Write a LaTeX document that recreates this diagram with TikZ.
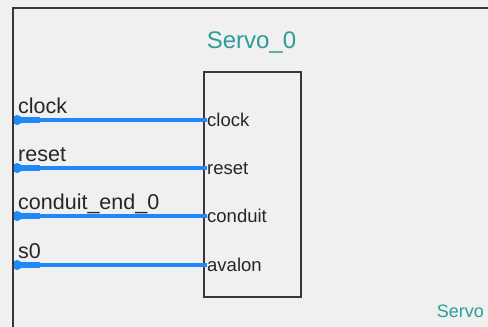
\documentclass[tikz,border=0pt]{standalone}
\usepackage{fontspec}
\setmainfont{Liberation Sans}
\usetikzlibrary{calc}
\definecolor{qsysteal}{HTML}{2E9C97}
\definecolor{qsysblue}{HTML}{2089F5}
\definecolor{qsysframe}{HTML}{383838}
\definecolor{qsysback}{HTML}{F0F0F0}

\begin{document}
\begin{tikzpicture}[x=1pt, y=-1pt,
		outerlabel/.style={anchor=base west, inner sep=0pt, color=black!85, font=\fontsize{21.5pt}{25pt}\selectfont},
		innerlabel/.style={anchor=base west, inner sep=0pt, color=black!85, font=\fontsize{18.5pt}{22pt}\selectfont},
		portwire/.style={line width=3.4pt, color=qsysblue},
		portstub/.style={line width=5.5pt, color=qsysblue}]
		%%%%% START %%%%%
		
		\fill[qsysback] (0, 0) rectangle (488, 327);
		\useasboundingbox (0, 0) rectangle (488, 327);
		
		\node[anchor=base, inner sep=0pt, color=qsysteal, font=\fontsize{24pt}{28pt}\selectfont] (title) at (251.5, 48) {Servo\_0};
		\draw[line width=1.8pt, color=qsysframe] (204, 72) rectangle (301, 297);
		
		\coordinate (clockend) at (17, 120);
		\coordinate (resetend) at (17, 168);
		\coordinate (conduitend) at (17, 216);
		\coordinate (avalonend) at (17, 265);
		
		\node[outerlabel] (clocklabel) at (18, 113) {clock};
		\node[outerlabel] (resetlabel) at (18, 161) {reset};
		\node[outerlabel] (conduitlabel) at (18, 209) {conduit\_end\_0};
		\node[outerlabel] (avalonlabel) at (18, 258) {s0};
		
		\node[innerlabel] (clockport) at (207, 126) {clock};
		\node[innerlabel] (resetport) at (207, 174) {reset};
		\node[innerlabel] (conduitport) at (207, 222) {conduit};
		\node[innerlabel] (avalonport) at (207, 271) {avalon};
		
		\draw[portwire] (clockend) -- (clockend -| clockport.west);
		\draw[portwire] (resetend) -- (resetend -| resetport.west);
		\draw[portwire] (conduitend) -- (conduitend -| conduitport.west);
		\draw[portwire] (avalonend) -- (avalonend -| avalonport.west);
		
		\draw[portstub] (clockend) -- ++(23, 0);
		\draw[portstub] (resetend) -- ++(23, 0);
		\draw[portstub] (conduitend) -- ++(23, 0);
		\draw[portstub] (avalonend) -- ++(23, 0);
		
		\fill[qsysblue] (clockend) circle (5);
		\fill[qsysblue] (resetend) circle (5);
		\fill[qsysblue] (conduitend) circle (5);
		\fill[qsysblue] (avalonend) circle (5);
		
		\draw[line width=2.2pt, color=qsysframe] (13, 327) -- (13, 8) -- (488, 8);
		
		\node[anchor=base east, inner sep=0pt, color=qsysteal, font=\fontsize{18pt}{22pt}\selectfont] (kindlabel) at (484, 317) {Servo};
		
		%%%%% END %%%%%
	\end{tikzpicture}
\end{document}
